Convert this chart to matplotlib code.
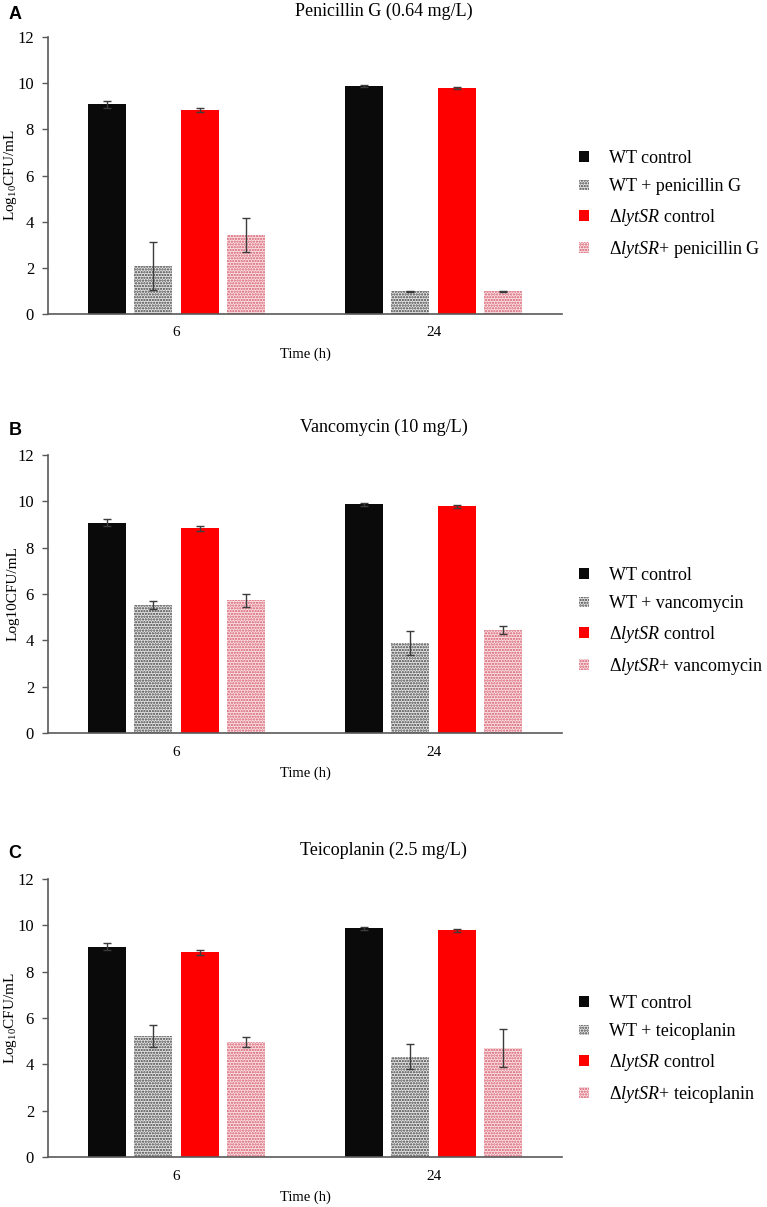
import numpy as np
from matplotlib import pyplot as plt
from matplotlib.patches import Patch

plt.rcParams['font.family'] = ['Liberation Serif', 'DejaVu Serif']
plt.rcParams['mathtext.fontset'] = 'custom'
plt.rcParams['mathtext.rm'] = 'Liberation Serif'
plt.rcParams['mathtext.it'] = 'Liberation Serif:italic'
plt.rcParams['hatch.linewidth'] = 1.1

times = ['6', '24']

pen_mean = {'wt': [9.08, 9.88], 'wt_drug': [2.09, 0.98], 'lyt': [8.83, 9.78], 'lyt_drug': [3.41, 0.98]}
pen_err = {'wt': [0.15, 0.06], 'wt_drug': [1.05, 0.03], 'lyt': [0.10, 0.05], 'lyt_drug': [0.73, 0.02]}

van_mean = {'wt': [9.08, 9.88], 'wt_drug': [5.52, 3.90], 'lyt': [8.83, 9.78], 'lyt_drug': [5.73, 4.44]}
van_err = {'wt': [0.15, 0.06], 'wt_drug': [0.16, 0.52], 'lyt': [0.10, 0.05], 'lyt_drug': [0.28, 0.18]}

tei_mean = {'wt': [9.08, 9.88], 'wt_drug': [5.22, 4.32], 'lyt': [8.83, 9.78], 'lyt_drug': [4.97, 4.71]}
tei_err = {'wt': [0.15, 0.06], 'wt_drug': [0.48, 0.54], 'lyt': [0.10, 0.05], 'lyt_drug': [0.23, 0.83]}

series = ['wt', 'wt_drug', 'lyt', 'lyt_drug']
styles = {
    'wt': dict(color='#0a0a0a', hatch=None, edge='#0a0a0a'),
    'wt_drug': dict(color='#e6e6e6', hatch='......', edge='#404040'),
    'lyt': dict(color='#ff0000', hatch=None, edge='#ff0000'),
    'lyt_drug': dict(color='#fae3e5', hatch='......', edge='#d5566a'),
}


def labels_for(drug):
    return ['WT control', 'WT + ' + drug, r'Δ$\mathit{lytSR}$ control', r'Δ$\mathit{lytSR}$+ ' + drug]


def plot_panel(fig, rect, letter, title, title_y, means, errs, drug, ylabel, legend_y):
    ax = fig.add_axes(rect)
    x = np.arange(len(times))
    offsets = [-0.27, -0.09, 0.09, 0.27]
    for s, off in zip(series, offsets):
        st = styles[s]
        ax.bar(x + off, means[s], width=0.148, color=st['color'], edgecolor=st['edge'],
               hatch=st['hatch'], linewidth=0, zorder=2)
        ax.errorbar(x + off, means[s], yerr=errs[s], fmt='none', ecolor='#3c3c3c',
                    elinewidth=1, capsize=3, capthick=1, zorder=3)
    ax.set_xlim(-0.5, 1.5)
    ax.set_ylim(0, 12)
    ax.set_yticks(range(0, 13, 2))
    ax.set_xticks(x)
    ax.set_xticklabels(times)
    ax.tick_params(axis='x', length=0, pad=9, labelsize=11)
    ax.tick_params(axis='y', length=4, width=1, color='#595959', pad=6, labelsize=12)
    for side in ['top', 'right']:
        ax.spines[side].set_visible(False)
    for side in ['left', 'bottom']:
        ax.spines[side].set_color('#595959')
        ax.spines[side].set_linewidth(1.2)
    ax.set_xlabel('Time (h)', fontsize=10.5, labelpad=6)
    ax.set_ylabel(ylabel, fontsize=11)
    ax.yaxis.set_label_coords(-0.056, 0.5)

    handles = []
    for s, lab in zip(series, labels_for(drug)):
        st = styles[s]
        handles.append(Patch(facecolor=st['color'], edgecolor=st['edge'], hatch=st['hatch'],
                             linewidth=0, label=lab))
    fig.legend(handles=handles, loc='center left', bbox_to_anchor=(0.755, legend_y),
               frameon=False, fontsize=13, handlelength=0.55, handleheight=0.55,
               handletextpad=1.1, labelspacing=0.62, borderpad=0, borderaxespad=0)

    fig.text(0.5, title_y, title, ha='center', va='center', fontsize=13)
    fig.text(0.011, title_y - 0.003, letter, ha='left', va='center', fontsize=13,
             fontweight='bold', family='Liberation Sans')
    return ax


fig = plt.figure(figsize=(7.67, 12.07), dpi=100)
H = 1207.0
left = 48 / 767.0
width = 514 / 767.0

plot_panel(fig, [left, 1 - 314 / H, width, 277 / H], 'A', 'Penicillin G (0.64 mg/L)', 1 - 11 / H,
           pen_mean, pen_err, 'penicillin G', r'Log$_{10}$CFU/mL', 1 - 205 / H)
plot_panel(fig, [left, 1 - 733 / H, width, 278 / H], 'B', 'Vancomycin (10 mg/L)', 1 - 427 / H,
           van_mean, van_err, 'vancomycin', 'Log10CFU/mL', 1 - 622 / H)
plot_panel(fig, [left, 1 - 1157 / H, width, 278 / H], 'C', 'Teicoplanin (2.5 mg/L)', 1 - 850 / H,
           tei_mean, tei_err, 'teicoplanin', r'Log$_{10}$CFU/mL', 1 - 1050 / H)

plt.savefig('out.png', dpi=100)
plt.close()
